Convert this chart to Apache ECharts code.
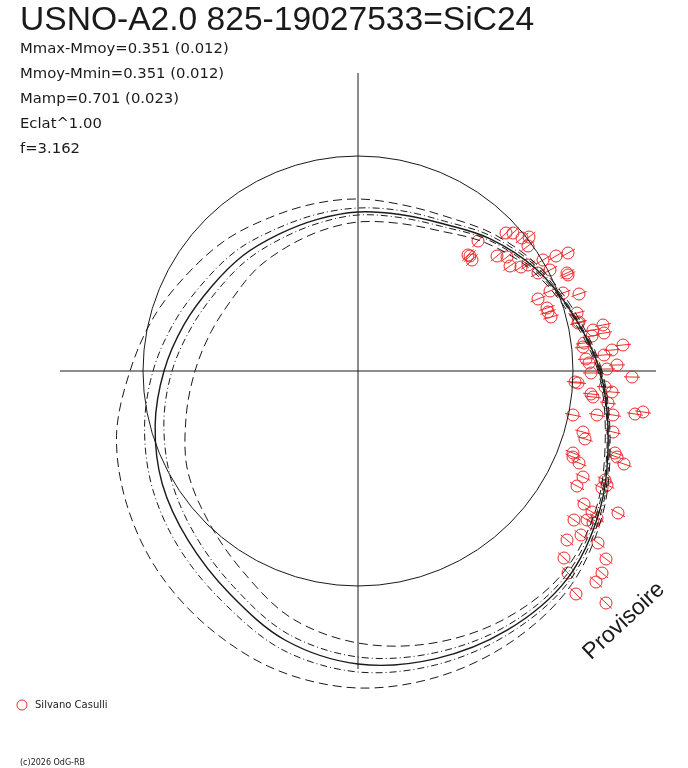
<!DOCTYPE html>
<html>
<head>
<meta charset="utf-8">
<title>USNO-A2.0 825-19027533=SiC24</title>
<script src="https://cdn.jsdelivr.net/npm/echarts@6/dist/echarts.min.js"></script>
<style>
html,body{margin:0;padding:0;background:#fff;}
#chart{width:688px;height:768px;}
</style>
</head>
<body>
<div id="chart"></div>
<script>
// texts
var titleText = "USNO-A2.0 825-19027533=SiC24";
var infoLines = ["Mmax-Mmoy=0.351 (0.012)", "Mmoy-Mmin=0.351 (0.012)", "Mamp=0.701 (0.023)", "Eclat^1.00", "f=3.162"];
var observer = "Silvano Casulli";
var stamp = "(c)2026 OdG-RB";
var watermark = "Provisoire";

// polar frame: radius units = 1 px, crosshair length
var frameR = 298;
var refRadius = 215;

// angles (deg, counter-clockwise from the right) where the fitted curves were read; curves are closed loops
var angles = [0,15,30,45,60,75,90,105,120,135,150,165,180,195,210,225,240,255,270,285,300,315,330,345];
var fitR       = [242,222,205,187,170,162,159,157,158,163,169,180,194,210,226,240,257,279,293,298,299,295,279,259];
var outerDashR = [244,225,209,193,178,172,172,173,177,186,196,211,228,250,267,283,297,310,317,316,311,302,283,261];
var outerDotR  = [243,223,207,190,173,166,163,162,164,171,178,190,205,221,237,252,268,289,301,304,303,298,281,260];
var innerDotR  = [241,221,203,185,167,159,156,153,153,157,162,172,186,201,216,231,249,272,286,292,295,292,277,258];
var innerDashR = [240,219,201,181,162,153,149,145,143,144,145,152,163,178,197,212,231,256,272,282,288,288,275,256];

// observations, position from centre (x right, y up)
var ptX = [148,155,164,171,170,120,110,114,112,139,149,152,163,170,185,198,210,180,192,209,210,192,205,221,180,189,190,193,219,221,220,235,245,246,234,226,225,265,254,246,228,231,259,249,233,274,217,220,233,235,254,247,250,215,239,255,277,285,
           225,227,255,215,215,221,257,259,266,225,219,247,244,249,226,234,260,216,229,235,239,223,209,240,206,248,210,244,238,218,248];
var ptY = [138,138,133,134,125,130,116,111,115,115,114,105,104,106,111,115,118,98,101,98,96,80,78,77,72,63,59,54,58,49,48,41,46,38,35,28,24,26,21,16,12,8,6,2,-2,-6,-11,-12,-23,-26,-21,-16,-32,-44,-44,-44,-43,-41,
           -61,-68,-61,-82,-86,-92,-82,-86,-93,-106,-115,-109,-117,-114,-133,-141,-142,-149,-149,-152,-147,-164,-169,-172,-187,-188,-202,-202,-211,-223,-232];
var errBar = 8;

var ink = "#1a1a1a";
var red = "#ec2b2b";

var curves = [
	{r:fitR, width:1.4, dash:null},
	{r:outerDashR, width:1, dash:[9,5]},
	{r:innerDashR, width:1, dash:[9,5]},
	{r:outerDotR, width:1, dash:[7,3,1,3]},
	{r:innerDotR, width:1, dash:[7,3,1,3]}
];

// closed smooth path through the projected points (Catmull-Rom as cubic Bezier)
function closedSmooth(p){
	var n = p.length, d = "M" + p[0][0] + "," + p[0][1];
	for(var i=0;i<n;i++){
		var p0 = p[(i-1+n)%n], p1 = p[i], p2 = p[(i+1)%n], p3 = p[(i+2)%n];
		var c1x = p1[0] + (p2[0]-p0[0])/6, c1y = p1[1] + (p2[1]-p0[1])/6;
		var c2x = p2[0] - (p3[0]-p1[0])/6, c2y = p2[1] - (p3[1]-p1[1])/6;
		d += "C" + c1x + "," + c1y + "," + c2x + "," + c2y + "," + p2[0] + "," + p2[1];
	}
	return d + "Z";
}

var pts = [];
for(var i=0;i<ptX.length;i++){ pts.push([ptX[i], ptY[i]]); }

var curveIdx = [];
for(var c=0;c<curves.length;c++){ curveIdx.push([c]); }

var graphics = [
	{type:"text", x:20, y:21, style:{text:titleText, font:'33.6px "Liberation Sans"', fill:ink, align:"left", verticalAlign:"middle"}},
	{type:"circle", shape:{cx:22, cy:705, r:5}, style:{fill:"none", stroke:red, lineWidth:1}},
	{type:"text", x:35, y:705, style:{text:observer, font:'10px "DejaVu Sans"', fill:ink, align:"left", verticalAlign:"middle"}},
	{type:"text", x:20, y:763, style:{text:stamp, font:'8px "DejaVu Sans"', fill:ink, align:"left", verticalAlign:"middle"}},
	{type:"text", x:624, y:621, rotation:Math.PI*43/180, style:{text:watermark, font:'23px "Liberation Sans"', fill:ink, align:"center", verticalAlign:"middle"}}
];
for(var j=0;j<infoLines.length;j++){
	graphics.push({type:"text", x:20, y:49.5+25*j, style:{text:infoLines[j], font:'14.8px "DejaVu Sans"', fill:ink, align:"left", verticalAlign:"middle"}});
}

var chart = echarts.init(document.getElementById("chart"), null, {renderer:"canvas"});
chart.setOption({
	backgroundColor:"#fff",
	animation:false,
	polar:{center:[358,371], radius:frameR},
	angleAxis:{
		type:"value", min:0, max:360, interval:90, startAngle:0, clockwise:false,
		axisLine:{show:false}, axisTick:{show:false}, axisLabel:{show:false},
		splitLine:{show:true, lineStyle:{color:ink, width:1}}
	},
	radiusAxis:{
		type:"value", min:0, max:frameR,
		axisLine:{show:false}, axisTick:{show:false}, axisLabel:{show:false}, splitLine:{show:false}
	},
	grid:{left:358-frameR, top:371-frameR, width:frameR*2, height:frameR*2},
	xAxis:{type:"value", min:-frameR, max:frameR, show:false},
	yAxis:{type:"value", min:-frameR, max:frameR, show:false},
	graphic:graphics,
	series:[
		{
			// observations with radial error bars
			type:"custom", coordinateSystem:"cartesian2d", data:pts, z:2, silent:true,
			renderItem:function(params, api){
				var x = api.value(0), y = api.value(1);
				var r = Math.sqrt(x*x + y*y);
				var k1 = (r - errBar)/r, k2 = (r + errBar)/r;
				var p = api.coord([x, y]);
				var a = api.coord([x*k1, y*k1]);
				var b = api.coord([x*k2, y*k2]);
				return {type:"group", children:[
					{type:"circle", shape:{cx:p[0], cy:p[1], r:6}, style:{fill:"none", stroke:red, lineWidth:1}},
					{type:"line", shape:{x1:a[0], y1:a[1], x2:b[0], y2:b[1]}, style:{stroke:red, lineWidth:1}}
				]};
			}
		},
		{
			// mean circle
			type:"custom", coordinateSystem:"polar", data:[[refRadius, 0]], z:3, silent:true,
			renderItem:function(params, api){
				var o = api.coord([0, 0]);
				var p = api.coord([api.value(0), api.value(1)]);
				var rr = Math.sqrt((p[0]-o[0])*(p[0]-o[0]) + (p[1]-o[1])*(p[1]-o[1]));
				return {type:"circle", shape:{cx:o[0], cy:o[1], r:rr}, style:{fill:"none", stroke:ink, lineWidth:1}};
			}
		},
		{
			// fitted light curves
			type:"custom", coordinateSystem:"polar", data:curveIdx, z:4, silent:true,
			renderItem:function(params, api){
				var cv = curves[api.value(0)];
				var p = [];
				for(var k=0;k<angles.length;k++){ p.push(api.coord([cv.r[k], angles[k]])); }
				return {type:"path", shape:{pathData:closedSmooth(p)},
					style:{fill:"none", stroke:ink, lineWidth:cv.width, lineDash:cv.dash}};
			}
		}
	]
});
</script>
</body>
</html>
